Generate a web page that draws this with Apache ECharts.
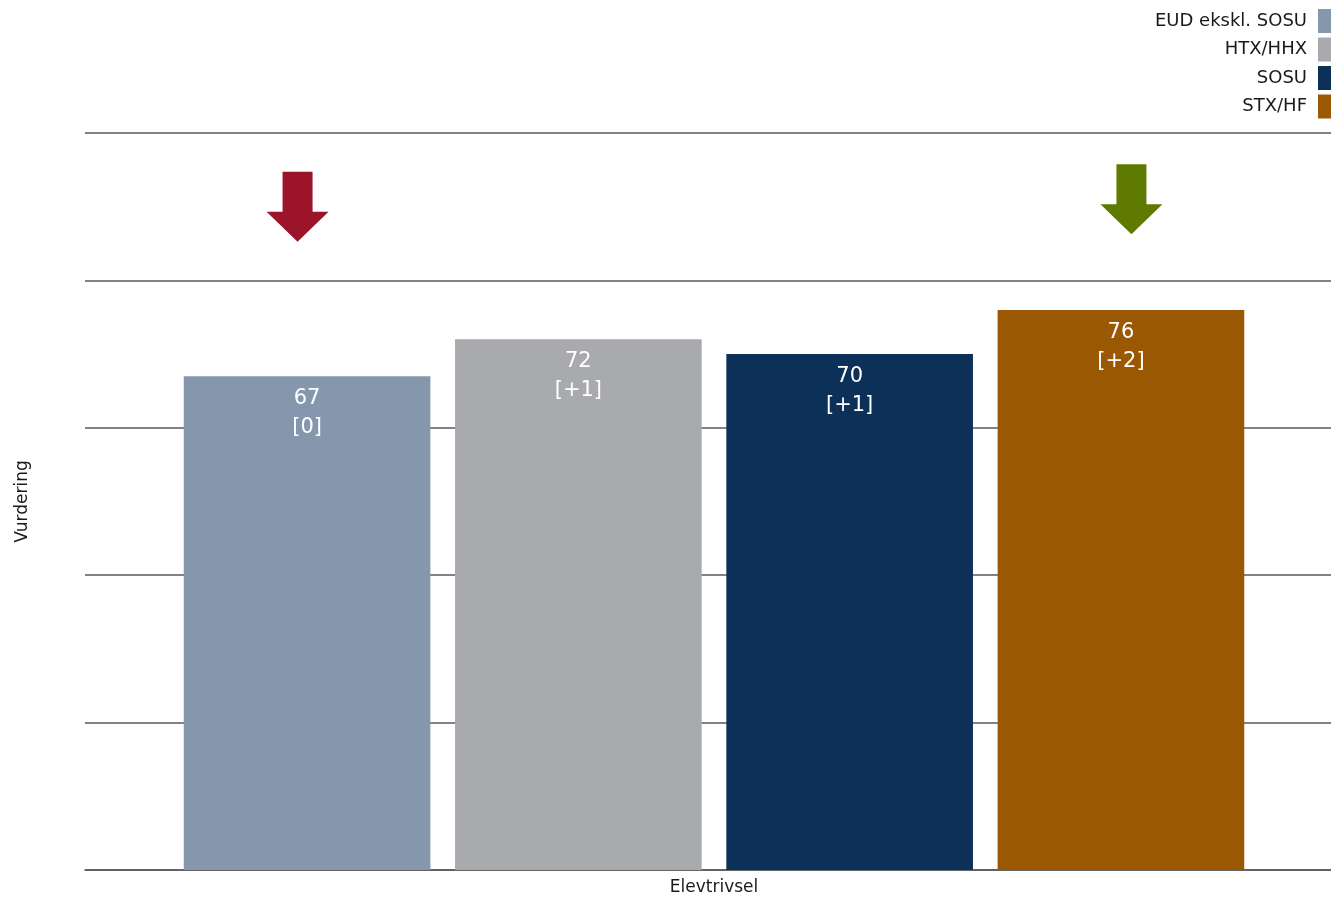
<!DOCTYPE html>
<html>
<head>
<meta charset="utf-8">
<script src="https://cdn.jsdelivr.net/npm/echarts@6/dist/echarts.min.js"></script>
<style>html,body{margin:0;padding:0;background:#fff}#c{width:1331px;height:899px}</style>
</head>
<body>
<div id="c"></div>
<script>
const categories = ['Elevtrivsel'];
const seriesNames = ['EUD ekskl. SOSU', 'HTX/HHX', 'SOSU', 'STX/HF'];
const seriesValues = [67, 72, 70, 76];
const seriesChanges = ['[0]', '[+1]', '[+1]', '[+2]'];
const seriesColors = ['#8497AD', '#A9AAAD', '#0C3057', '#9A5803'];
// arrow indicators shown above some bars
const arrowSeries = [0, 3];
const arrowValues = [90, 91];
const arrowColors = ['#9B1429', '#5F7A00'];
const arrowOffsets = [-9.5, 10.5];
const yTicks = [0, 20, 40, 60, 80, 100];

const FONT = 'DejaVu Sans';
const arrowPath = 'path://M16,0 L46,0 L46,40 L62,40 L31,70 L0,40 L16,40 Z';

const series = seriesNames.map((name, i) => {
  const s = {
    name: name,
    type: 'bar',
    barGap: '10%',
    barCategoryGap: '15.7%',
    itemStyle: { color: seriesColors[i] },
    data: [seriesValues[i]],
    label: {
      show: true,
      position: 'insideTop',
      distance: 8,
      color: '#fff',
      fontFamily: FONT,
      fontSize: 21,
      lineHeight: 29,
      formatter: () => seriesValues[i] + '\n' + seriesChanges[i]
    }
  };
  const k = arrowSeries.indexOf(i);
  if (k >= 0) {
    s.markPoint = {
      symbol: arrowPath,
      symbolSize: [62, 70],
      symbolOffset: [arrowOffsets[k], 0],
      silent: true,
      label: { show: false },
      itemStyle: { color: arrowColors[k] },
      data: [{ coord: [categories[0], arrowValues[k]] }]
    };
  }
  return s;
});

const chart = echarts.init(document.getElementById('c'));
chart.setOption({
  animation: false,
  backgroundColor: '#fff',
  grid: { left: 85, right: -12, top: 133, bottom: 29, containLabel: false, outerBoundsMode: 'none' },
  legend: {
    data: seriesNames,
    orient: 'vertical',
    right: 0,
    top: 9,
    padding: 0,
    align: 'right',
    itemWidth: 13,
    itemHeight: 24,
    itemGap: 4.5,
    icon: 'rect',
    textStyle: { fontFamily: FONT, fontSize: 18, color: '#1a1a1a', padding: [0, 6, 0, 0] }
  },
  xAxis: {
    type: 'category',
    data: categories,
    name: categories[0],
    nameLocation: 'middle',
    nameGap: 9,
    nameTextStyle: { fontFamily: FONT, fontSize: 17, color: '#1a1a1a' },
    axisLine: { show: true, lineStyle: { color: '#595959', width: 1.5 } },
    axisTick: { show: false },
    axisLabel: { show: false }
  },
  yAxis: {
    type: 'value',
    min: yTicks[0],
    max: yTicks[yTicks.length - 1],
    interval: yTicks[1] - yTicks[0],
    name: 'Vurdering',
    nameLocation: 'middle',
    nameGap: 54,
    nameTextStyle: { fontFamily: FONT, fontSize: 17, color: '#1a1a1a' },
    axisLine: { show: false },
    axisTick: { show: false },
    axisLabel: { show: false },
    splitLine: { show: true, lineStyle: { color: '#595959', width: 1.5 } }
  },
  series: series
});
</script>
</body>
</html>
